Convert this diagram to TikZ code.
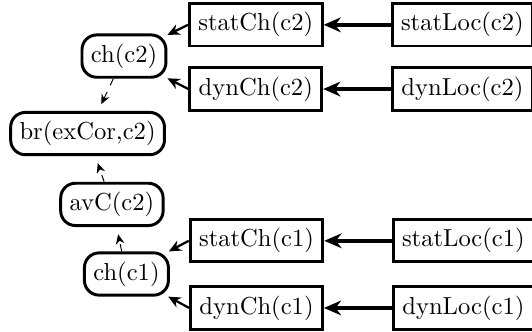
\documentclass[tikz,border=0pt]{standalone}
\usepackage{tikz}
\usetikzlibrary{arrows.meta}

\tikzset{
  sqbox/.style={draw,line width=1.2pt,inner sep=3.6pt},
  rndbox/.style={draw,line width=1.2pt,inner sep=3.6pt,rounded corners=6pt},
  locarrow/.style={line width=1.6pt,-{Stealth[length=7pt,width=6pt]}},
  charrow/.style={line width=0.9pt,-{Stealth[length=5pt,width=4.5pt]}},
  brarrow/.style={thin,dashed,shorten >=3pt,-{Stealth[length=4pt,width=3.5pt]}}
}

\begin{document}
\begin{tikzpicture}[x=1pt,y=1pt]
        \useasboundingbox (0,0) rectangle (216.3,-134.6);
        % upper part
        \node[rndbox] (chc2) at (50.4,-22.8) {ch(c2)};
        \node[sqbox] (statchc2) at (104,-10.1) {statCh(c2)};
        \node[sqbox] (dynchc2) at (104,-36.2) {dynCh(c2)};
        \node[sqbox] (statlocc2) at (188,-10.1) {statLoc(c2)};
        \node[sqbox] (dynlocc2) at (188,-36.2) {dynLoc(c2)};
        \node[rndbox] (br) at (35.6,-54.3) {br(exCor,c2)};
        % lower part
        \node[rndbox] (avc) at (45.5,-83.1) {avC(c2)};
        \node[rndbox] (chc1) at (51.4,-111.4) {ch(c1)};
        \node[sqbox] (statchc1) at (104.3,-97.9) {statCh(c1)};
        \node[sqbox] (dynchc1) at (104.3,-125.2) {dynCh(c1)};
        \node[sqbox] (statlocc1) at (188.4,-97.9) {statLoc(c1)};
        \node[sqbox] (dynlocc1) at (188.4,-125.2) {dynLoc(c1)};
        % connectors
        \draw[locarrow] (statlocc2) -- (statchc2);
        \draw[locarrow] (dynlocc2) -- (dynchc2);
        \draw[locarrow] (statlocc1) -- (statchc1);
        \draw[locarrow] (dynlocc1) -- (dynchc1);
        \draw[charrow] (statchc2.west) -- (chc2);
        \draw[charrow] (dynchc2.west) -- (chc2);
        \draw[charrow] (statchc1.west) -- (chc1);
        \draw[charrow] (dynchc1.west) -- (chc1);
        \draw[brarrow] (chc2) -- (br);
        \draw[brarrow] (avc) -- (br);
        \draw[brarrow] (chc1) -- (avc);
    \end{tikzpicture}
\end{document}
